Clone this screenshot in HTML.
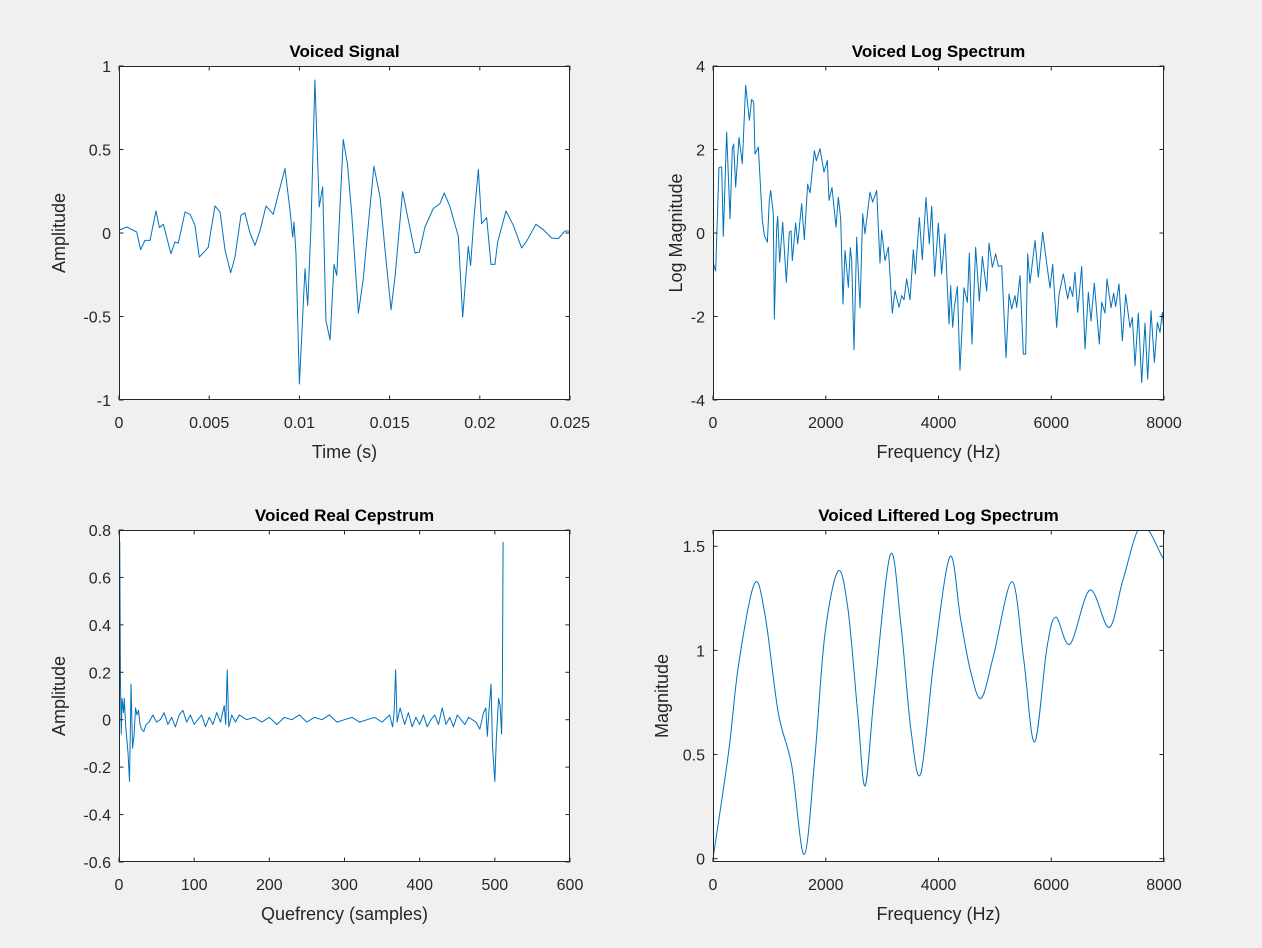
<!DOCTYPE html>
<html><head><meta charset="utf-8"><style>
body{margin:0;background:#f0f0f0;}
svg{display:block;font-family:"Liberation Sans",Arial,sans-serif;}
</style></head><body>
<svg id="fig" width="1262" height="948" viewBox="0 0 1262 948" xmlns="http://www.w3.org/2000/svg">
<rect width="1262" height="948" fill="#f0f0f0"/>
</svg>
<script>
// ---- Voiced Signal (time in ms, amplitude)
const sigT=[0,0.42,0.98,1.20,1.44,1.72,2.05,2.24,2.46,2.88,3.10,3.29,3.66,3.94,4.21,4.45,4.77,4.95,5.32,5.60,5.88,6.19,6.43,6.76,6.98,7.26,7.54,7.82,8.15,8.55,8.83,9.20,9.48,9.63,9.70,9.81,10.00,10.31,10.46,10.64,10.86,11.10,11.29,11.47,11.70,11.92,12.07,12.43,12.66,12.90,13.27,13.54,13.73,14.13,14.47,14.74,15.08,15.30,15.72,16.04,16.41,16.65,16.96,17.42,17.79,18.03,18.35,18.81,19.05,19.36,19.49,19.68,19.92,20.10,20.38,20.62,20.84,20.99,21.45,21.86,22.32,22.60,23.11,23.52,23.98,24.35,24.72,25.0];
const sigA=[.016,.036,.006,-.1,-.044,-.044,.132,.032,.052,-.124,-.054,-.06,.126,.112,.046,-.144,-.108,-.084,.162,.126,-.104,-.238,-.144,.106,.12,0,-.074,.016,.162,.112,.232,.386,.136,-.024,.066,-.124,-.904,-.214,-.434,.036,.916,.156,.276,-.524,-.64,-.188,-.254,.56,.416,.116,-.48,-.274,-.054,.4,.216,-.094,-.46,-.264,.248,.076,-.12,-.114,.036,.146,.176,.24,.156,-.02,-.504,-.08,-.194,.096,.38,.056,.092,-.188,-.188,-.054,.132,.046,-.09,-.048,.052,.02,-.03,-.034,.012,.012];
// ---- Voiced Log Spectrum
const specF=[0,47,106,154,183,242,302,343,367,402,461,520,579,645,686,721,745,804,875,911,964,999,1023,1070,1088,1129,1147,1183,1236,1301,1354,1384,1407,1466,1502,1573,1620,1679,1721,1798,1833,1898,1969,2028,2058,2111,2182,2223,2265,2306,2342,2401,2436,2460,2501,2549,2608,2655,2696,2785,2832,2903,2962,2992,3051,3110,3181,3229,3300,3347,3388,3435,3495,3554,3589,3660,3713,3778,3837,3879,3932,3997,4056,4115,4186,4216,4251,4281,4334,4381,4452,4512,4547,4594,4659,4724,4778,4855,4896,4955,5014,5062,5121,5198,5251,5298,5357,5387,5446,5505,5546,5582,5623,5712,5771,5848,5889,5978,6025,6096,6138,6214,6291,6333,6380,6421,6469,6540,6599,6658,6705,6764,6853,6895,6954,6989,7060,7107,7143,7202,7261,7320,7397,7439,7486,7545,7604,7663,7710,7770,7829,7882,7929,7971,8000];
const specV=[-.70,-.91,1.57,1.58,-.08,2.42,.34,2.02,2.13,1.10,2.29,1.66,3.54,2.70,3.20,3.14,1.89,2.06,.30,-.06,-.22,.78,1.02,.46,-2.06,.10,.40,-.70,.26,-1.18,.02,.05,-.66,.24,-.26,.70,-.16,1.17,.96,1.97,1.73,2.02,1.46,1.74,.78,1.09,.14,.86,.34,-1.70,-.42,-1.30,-.35,-.66,-2.80,-.10,-1.79,.46,-.02,.98,.74,1.02,-.72,.06,-.66,-.34,-1.92,-1.38,-1.78,-1.50,-1.60,-1.10,-1.60,-.40,-.98,.37,-.64,.85,-.26,.64,-1.04,.24,-.98,-.02,-2.18,-1.26,-2.26,-1.78,-1.28,-3.28,-1.31,-1.66,-.48,-2.66,-.34,-1.63,-.56,-1.39,-.24,-.82,-.50,-.80,-.78,-2.98,-1.46,-1.82,-1.50,-1.78,-1.02,-2.90,-2.90,-.50,-1.20,-.18,-1.06,.02,-.42,-1.32,-.75,-2.26,-1.47,-.98,-1.58,-1.28,-1.52,-.94,-1.90,-.80,-2.78,-1.42,-2.11,-1.20,-2.66,-1.66,-1.92,-1.10,-1.79,-1.44,-1.76,-1.22,-2.58,-1.47,-2.26,-2.02,-3.18,-1.92,-3.58,-2.16,-3.50,-1.86,-3.10,-2.14,-2.38,-1.90,-2.40];
// ---- Real Cepstrum
const cepN=[0,1,2,3,4,6,7,9,12,14,16,18,20,22,24,26,28,30,33,36,40,45,50,55,60,65,70,75,80,85,90,95,100,105,110,115,120,125,130,135,140,142,144,146,150,155,160,170,180,190,200,210,220,230,240,250,260,270,280,290,300,310,320,330,340,350,360,364,366,368,370,374,380,385,390,395,400,405,410,415,420,425,430,435,440,445,450,455,460,465,470,475,480,485,488,490,492,495,497,500,502,505,507,509,510,511];
const cepV=[-.59,.75,.15,-.06,.09,.03,.09,-.03,-.14,-.26,.15,-.12,-.07,.05,.02,.04,-.02,-.04,-.05,-.02,-.01,.02,-.01,0,.03,-.02,.01,-.03,.02,.04,-.01,.02,-.02,0,.02,-.03,.01,-.02,.03,-.01,.06,-.02,.21,-.03,.02,-.01,.02,0,.01,-.01,.01,-.02,.01,0,.02,-.01,.01,0,.02,-.01,0,.01,-.01,0,.01,-.01,.02,-.03,.03,.21,-.01,.05,-.02,.03,-.03,.01,-.02,.02,-.03,0,.02,-.02,.05,-.02,.01,-.03,.02,0,-.02,.01,0,-.01,-.04,.03,.05,-.07,.03,.15,-.12,-.26,-.08,.09,.06,-.06,.12,.75];
// ---- Liftered Log Spectrum
const lifF=[0,276,453,735,923,1158,1394,1617,1805,1982,2217,2393,2570,2699,2864,3146,3334,3510,3687,3922,4204,4392,4569,4757,4981,5304,5510,5704,5922,6080,6333,6686,7027,7274,7598,7968,8000];
const lifV=[0,.51,.93,1.32,1.17,.70,.45,0.02,.48,1.07,1.38,1.2,.69,.35,.8,1.46,1.12,.62,.41,.96,1.45,1.15,.9,.77,.98,1.33,.96,.56,1.01,1.16,1.03,1.29,1.11,1.34,1.6,1.45,1.43];

const NS='http://www.w3.org/2000/svg';
const fig=document.getElementById('fig');
function el(tag,attrs,parent){const e=document.createElementNS(NS,tag);for(const k in attrs)e.setAttribute(k,attrs[k]);(parent||fig).appendChild(e);return e;}

function axes(cfg){
  const g=el('g',{});
  
  
  const {x0,x1,y0,y1}=cfg.box;
  const sx=v=>x0+(v-cfg.xlim[0])/(cfg.xlim[1]-cfg.xlim[0])*(x1-x0);
  const sy=v=>y1-(v-cfg.ylim[0])/(cfg.ylim[1]-cfg.ylim[0])*(y1-y0);
  el('rect',{x:x0,y:y0,width:x1-x0,height:y1-y0,fill:'#fff'},g);
  let d='';
  for(let i=0;i<Math.min(cfg.xs.length,cfg.ys.length);i++){d+=(i?'L':'M')+sx(cfg.xs[i]).toFixed(2)+','+sy(cfg.ys[i]).toFixed(2);}
  if(cfg.smooth){
    const P=cfg.xs.map((x,i)=>[sx(x),sy(cfg.ys[i])]);
    d='M'+P[0][0]+','+P[0][1];
    for(let i=0;i<P.length-1;i++){
      const p0=P[Math.max(0,i-1)],p1=P[i],p2=P[i+1],p3=P[Math.min(P.length-1,i+2)];
      const c1=[p1[0]+(p2[0]-p0[0])/6,p1[1]+(p2[1]-p0[1])/6];
      const c2=[p2[0]-(p3[0]-p1[0])/6,p2[1]-(p3[1]-p1[1])/6];
      d+='C'+c1[0].toFixed(2)+','+c1[1].toFixed(2)+' '+c2[0].toFixed(2)+','+c2[1].toFixed(2)+' '+p2[0].toFixed(2)+','+p2[1].toFixed(2);
    }
  }
  const cp=el('clipPath',{id:'clip-'+cfg.name},g);
  el('rect',{x:x0,y:y0,width:x1-x0,height:y1-y0},cp);
  const ln=el('path',{d:d,fill:'none',stroke:'#0072bd','stroke-width':1,'stroke-linejoin':'round','clip-path':'url(#clip-'+cfg.name+')'},g);
  
  
  cfg.xticks.forEach((t,i)=>{
    const x=sx(t);
    el('line',{x1:x,x2:x,y1:y1,y2:y1-4.5,stroke:'#262626','stroke-width':1},g);
    el('line',{x1:x,x2:x,y1:y0,y2:y0+4.5,stroke:'#262626','stroke-width':1},g);
    const tx=el('text',{x:x,y:y1+28,'font-size':16,fill:'#262626','text-anchor':'middle'},g);
    tx.textContent=cfg.xlabels[i];
    
    
  });
  cfg.yticks.forEach((t,i)=>{
    const y=sy(t);
    el('line',{x1:x0,x2:x0+4.5,y1:y,y2:y,stroke:'#262626','stroke-width':1},g);
    el('line',{x1:x1,x2:x1-4.5,y1:y,y2:y,stroke:'#262626','stroke-width':1},g);
    const tx=el('text',{x:x0-8,y:y+6,'font-size':16,fill:'#262626','text-anchor':'end'},g);
    tx.textContent=cfg.ylabels[i];
    
    
  });
  el('rect',{x:x0+0.5,y:y0+0.5,width:x1-x0-1,height:y1-y0-1,fill:'none',stroke:'#262626','stroke-width':1},g);
  const ti=el('text',{x:(x0+x1)/2,y:y0-9,'font-size':17,'font-weight':'bold',fill:'#000','text-anchor':'middle'},g);
  ti.textContent=cfg.title;
  
  
  const xl=el('text',{x:(x0+x1)/2,y:y1+58,'font-size':18,fill:'#262626','text-anchor':'middle'},g);
  xl.textContent=cfg.xlabel;
  
  
  const yx=x0-cfg.ylOff, yy=(y0+y1)/2;
  const yl=el('text',{x:yx,y:yy,'font-size':18,fill:'#262626','text-anchor':'middle',transform:'rotate(-90 '+yx+' '+yy+')'},g);
  yl.textContent=cfg.ylabel;
  
  
}

axes({name:'voiced-signal',box:{x0:119,x1:570,y0:66,y1:400},xlim:[0,25],ylim:[-1,1],xs:sigT,ys:sigA,
  xticks:[0,5,10,15,20,25],xlabels:['0','0.005','0.01','0.015','0.02','0.025'],
  yticks:[-1,-0.5,0,0.5,1],ylabels:['-1','-0.5','0','0.5','1'],title:'Voiced Signal',xlabel:'Time (s)',ylabel:'Amplitude',ylOff:54});
axes({name:'voiced-log-spectrum',box:{x0:713,x1:1164,y0:66,y1:400},xlim:[0,8000],ylim:[-4,4],xs:specF,ys:specV,
  xticks:[0,2000,4000,6000,8000],xlabels:['0','2000','4000','6000','8000'],
  yticks:[-4,-2,0,2,4],ylabels:['-4','-2','0','2','4'],title:'Voiced Log Spectrum',xlabel:'Frequency (Hz)',ylabel:'Log Magnitude',ylOff:31});
axes({name:'voiced-real-cepstrum',box:{x0:119,x1:570,y0:530,y1:862},xlim:[0,600],ylim:[-0.6,0.8],xs:cepN,ys:cepV,
  xticks:[0,100,200,300,400,500,600],xlabels:['0','100','200','300','400','500','600'],
  yticks:[-0.6,-0.4,-0.2,0,0.2,0.4,0.6,0.8],ylabels:['-0.6','-0.4','-0.2','0','0.2','0.4','0.6','0.8'],title:'Voiced Real Cepstrum',xlabel:'Quefrency (samples)',ylabel:'Amplitude',ylOff:54});
axes({name:'voiced-liftered-log-spectrum',box:{x0:713,x1:1164,y0:530,y1:862},xlim:[0,8000],ylim:[-0.016,1.578],xs:lifF,ys:lifV,smooth:true,
  xticks:[0,2000,4000,6000,8000],xlabels:['0','2000','4000','6000','8000'],
  yticks:[0,0.5,1,1.5],ylabels:['0','0.5','1','1.5'],title:'Voiced Liftered Log Spectrum',xlabel:'Frequency (Hz)',ylabel:'Magnitude',ylOff:45});
</script>
</body></html>
